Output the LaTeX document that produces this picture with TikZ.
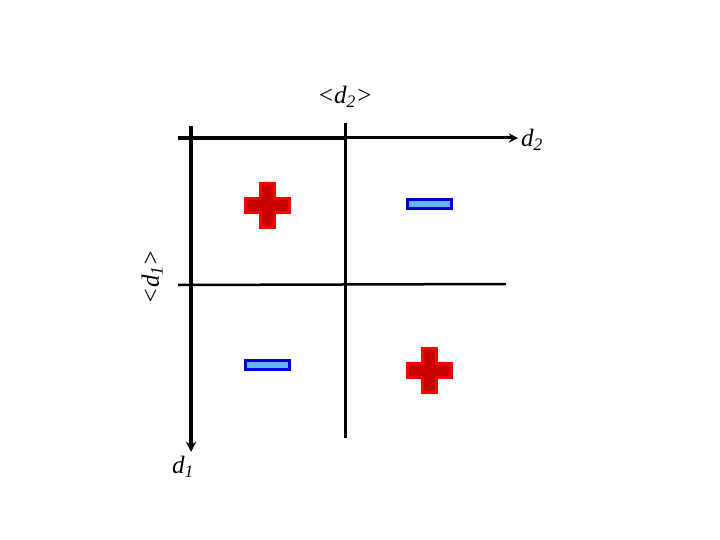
\documentclass[tikz,border=0pt]{standalone}
\usepackage{fontspec}
\setmainfont{Liberation Serif}
\usetikzlibrary{arrows}
\definecolor{minusfill}{RGB}{102,180,255}
\definecolor{minusline}{RGB}{0,0,204}
\definecolor{plusfill}{RGB}{200,0,0}
\tikzstyle{axis} = [line width=3.5pt,->,>=stealth]
\tikzstyle{divider} = [line width=3pt]
\tikzstyle{label} = [font=\fontsize{25}{30}\selectfont\itshape, inner sep=0pt]
\tikzstyle{minus} = [rectangle, minimum width=44pt, minimum height=9pt, inner sep=0pt, draw=minusline, line width=3pt, fill=minusfill]
\tikzstyle{plus} = [draw=red, line width=3pt, fill=plusfill]

\begin{document}
\begin{tikzpicture}[x=1pt,y=-1pt]
\useasboundingbox (0,0) rectangle (720,540);
% axes
\coordinate (o) at (191,138);
\coordinate (d2mid) at (345,138);
\coordinate (d2end) at (518,138);
\coordinate (d1end) at (191,452);
\coordinate (otop) at (191,126);
\coordinate (oleft) at (178,138);
\draw [line width=3.5pt] (oleft) -- (d2mid);
\draw [axis, line width=3pt] (d2mid) -- (d2end);
\draw [axis] (otop) -- (d1end);
% mean lines
\coordinate (m2top) at (345,123);
\coordinate (m2bot) at (345,438);
\coordinate (m1left) at (178,285);
\coordinate (m1right) at (506,284);
\draw [divider] (m2top) -- (m2bot);
\draw [divider, line width=2.5pt] (m1left) -- (m1right);

\node (d2) [label, anchor=west] at (521,140) {d\textsubscript{2}};
\node (d1) [label] at (183,467) {d\textsubscript{1}};
\node (md2) [label] at (345,97) {<d\textsubscript{2}>};
\node (md1) [label, rotate=90] at (152,277) {<d\textsubscript{1}>};

% signs
\node (minusA) [minus] at (429,204) {};
\node (minusB) [minus] at (267,365) {};
\coordinate (plusA) at (267,206);
\coordinate (plusB) at (429,370);
\foreach \c in {plusA,plusB}
  \draw [plus, shift={(\c)}] (-7,-22) -- (7,-22) -- (7,-7) -- (22,-7) -- (22,7) -- (7,7)
    -- (7,22) -- (-7,22) -- (-7,7) -- (-22,7) -- (-22,-7) -- (-7,-7) -- cycle;

\end{tikzpicture}
\end{document}
